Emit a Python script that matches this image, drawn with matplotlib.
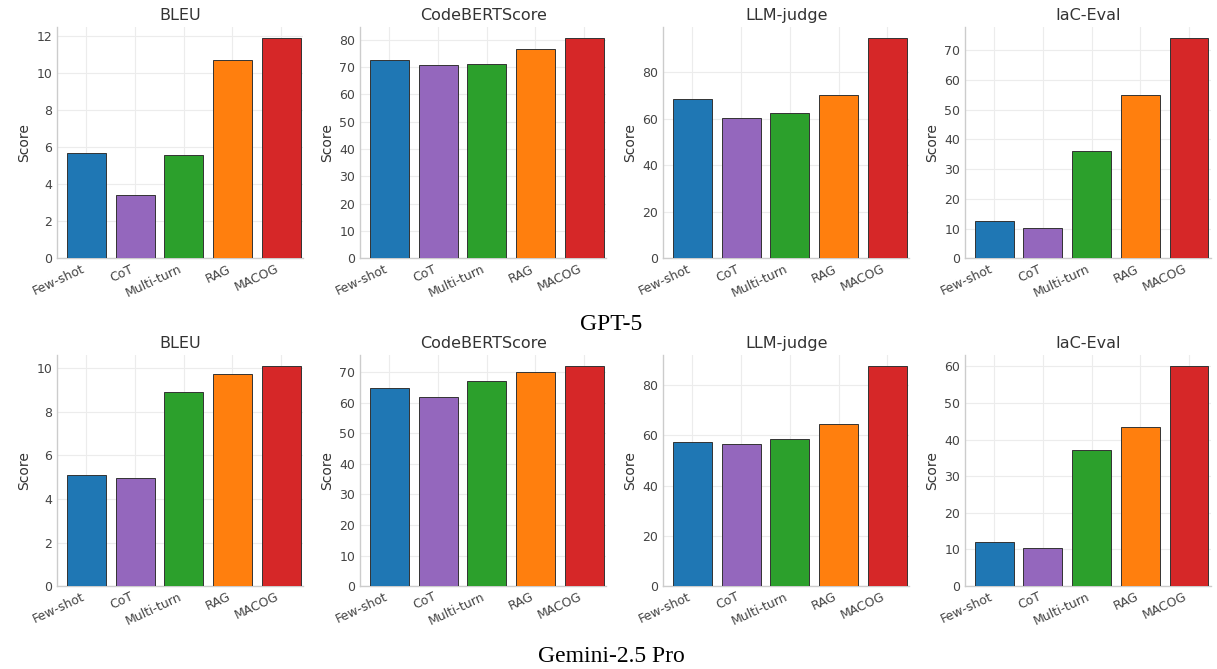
import numpy as np
import matplotlib.pyplot as plt

methods = ['Few-shot', 'CoT', 'Multi-turn', 'RAG', 'MACOG']
metrics = ['BLEU', 'CodeBERTScore', 'LLM-judge', 'IaC-Eval']
colors = ['#1f77b4', '#9467bd', '#2ca02c', '#ff7f0e', '#d62728']

# GPT-5 scores per metric
gpt5_bleu = [5.7, 3.4, 5.55, 10.7, 11.85]
gpt5_codebert = [72.5, 70.8, 71.2, 76.5, 80.5]
gpt5_judge = [68.5, 60.5, 62.5, 70.0, 94.5]
gpt5_iac = [12.5, 10.3, 36.0, 55.0, 74.0]

# Gemini-2.5 Pro scores per metric
gem_bleu = [5.1, 4.95, 8.9, 9.75, 10.1]
gem_codebert = [65.0, 62.0, 67.0, 70.0, 72.0]
gem_judge = [57.5, 56.5, 58.5, 64.5, 87.5]
gem_iac = [12.0, 10.5, 37.0, 43.5, 60.0]

rows = [
    ('GPT-5', [gpt5_bleu, gpt5_codebert, gpt5_judge, gpt5_iac]),
    ('Gemini-2.5 Pro', [gem_bleu, gem_codebert, gem_judge, gem_iac]),
]

fig = plt.figure(figsize=(12.17, 6.69), dpi=100)

lefts = [0.047, 0.296, 0.545, 0.793]
width = 0.202
bottoms = [0.614, 0.124]
height = 0.345
caption_y = [0.500, 0.003]

for r, (model, values) in enumerate(rows):
    for c, metric in enumerate(metrics):
        ax = fig.add_axes([lefts[c], bottoms[r], width, height])
        x = np.arange(len(methods))
        ax.bar(x, values[c], color=colors, edgecolor='#333333', linewidth=0.7, width=0.8, zorder=3)
        ax.set_title(metric, fontsize=11.5, color='#333333', pad=5)
        ax.set_ylabel('Score', fontsize=10, color='#333333')
        ax.set_xticks(x)
        ax.set_xticklabels(methods, rotation=25, ha='right', fontsize=9, color='#444444')
        ax.tick_params(axis='y', labelsize=9, colors='#444444', length=0)
        ax.tick_params(axis='x', length=0, pad=3)
        ax.grid(True, color='#ececec', linewidth=0.8, zorder=0)
        for s in ['top', 'right']:
            ax.spines[s].set_visible(False)
        for s in ['left', 'bottom']:
            ax.spines[s].set_color('#cccccc')
            ax.spines[s].set_linewidth(1.0)
        ax.set_xlim(-0.6, 4.45)
    fig.text(0.502, caption_y[r], model, ha='center', va='bottom',
             fontsize=17, family='Liberation Serif')

plt.savefig('out.png', dpi=100)
